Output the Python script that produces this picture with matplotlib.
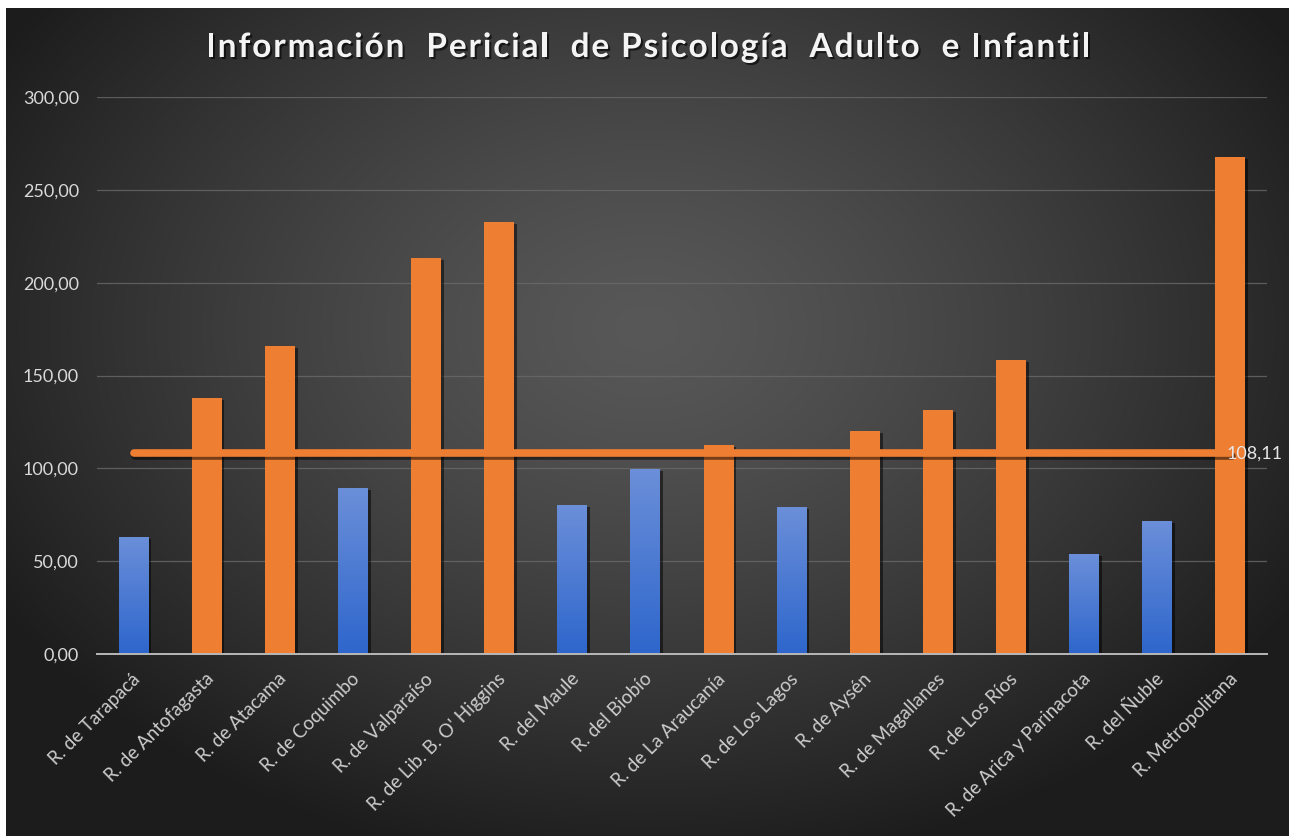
import numpy as np
import matplotlib
matplotlib.use("Agg")
import matplotlib.pyplot as plt
from matplotlib import patheffects as pe
from matplotlib.textpath import TextPath
from matplotlib.font_manager import FontProperties

regions = ["R. de Tarapacá", "R. de Antofagasta", "R. de Atacama", "R. de Coquimbo",
           "R. de Valparaíso", "R. de Lib. B. O' Higgins", "R. del Maule", "R. del Biobío",
           "R. de La Araucanía", "R. de Los Lagos", "R. de Aysén", "R. de Magallanes",
           "R. de Los Ríos", "R. de Arica y Parinacota", "R. del Ñuble", "R. Metropolitana"]
values = [63.2, 138.0, 166.0, 89.2, 213.4, 232.8, 80.2, 99.6,
          112.5, 79.0, 120.3, 131.4, 158.3, 53.8, 71.8, 267.8]
average = 108.11
yticks = [0, 50, 100, 150, 200, 250, 300]
ytick_labels = ["0,00", "50,00", "100,00", "150,00", "200,00", "250,00", "300,00"]
title = "Información  Pericial  de Psicología  Adulto  e Infantil"

plt.rcParams['font.family'] = ['Lato', 'DejaVu Sans']

W, H = 1289, 836
fig = plt.figure(figsize=(W / 100, H / 100), dpi=100, facecolor="white")

# background (chart area, leaving white strip at top/left)
bx0, by0 = 6 / W, 0
bg = fig.add_axes([bx0, by0, 1 - bx0, 1 - 8 / H])
bg.set_axis_off()
yy, xx = np.mgrid[0:828, 0:1283]
cx, cy = 640, 320
r = np.sqrt(((xx - cx) / 720.0) ** 2 + ((yy - cy) / 520.0) ** 2)
lum = 0.345 - 0.22 * np.clip(r, 0, 1.4) ** 1.3
lum = np.clip(lum, 0.11, 0.36)
img = np.dstack([lum, lum, lum])
bg.imshow(img, aspect='auto', extent=[0, 1, 0, 1], origin='upper')
bg.set_xlim(0, 1)
bg.set_ylim(0, 1)

ax = fig.add_axes([97 / W, 1 - 654 / H, 1170 / W, 557 / H])
ax.patch.set_alpha(0)
x = np.arange(len(regions))
orange = "#EE7E32"
colors = [orange if v > average else "#4472C4" for v in values]
shadow = [pe.SimplePatchShadow(offset=(2, -1.5), shadow_rgbFace="black", alpha=0.5), pe.Normal()]
bars = ax.bar(x, values, width=0.41, color=colors, zorder=3, path_effects=shadow)

# gradient fill for blue bars
grad = np.linspace(0, 1, 256).reshape(-1, 1)
top = np.array([0.42, 0.56, 0.85])
bot = np.array([0.18, 0.40, 0.80])
gimg = (top[None, None, :] * (1 - grad[:, :, None]) + bot[None, None, :] * grad[:, :, None])
for b, v in zip(bars, values):
    if v <= average:
        im = ax.imshow(gimg, extent=[b.get_x(), b.get_x() + b.get_width(), 0, b.get_height()],
                       aspect='auto', origin='upper', zorder=4)
        im.set_clip_path(b)

ax.plot([x[0], x[-1]], [average, average], color=orange, lw=5.5, solid_capstyle='round', zorder=5,
        path_effects=[pe.SimpleLineShadow(offset=(1, -2), shadow_color="black", alpha=0.5), pe.Normal()])
ax.text(x[-1] - 0.05, average, "108,11", color="#e6e6e6", fontsize=13, va='center', ha='left', zorder=6)

ax.set_xlim(-0.5, len(regions) - 0.5)
ax.set_ylim(0, 300)
ax.set_yticks(yticks)
ax.set_yticklabels(ytick_labels, color="#d9d9d9", fontsize=13)
ax.set_xticks(x)
ax.set_xticklabels(regions, rotation=45, ha='right', va='center', rotation_mode='anchor',
                   color="#cccccc", fontsize=13.5)
ax.tick_params(axis='both', length=0)
ax.tick_params(axis='y', pad=13)
ax.tick_params(axis='x', pad=16)
for lab in ax.get_xticklabels():
    lab.set_transform(lab.get_transform() + matplotlib.transforms.ScaledTranslation(4 / 100, 0, fig.dpi_scale_trans))
ax.grid(axis='y', color="#6a6a6a", lw=0.9, alpha=0.8, zorder=0)
for s in ["top", "right", "left"]:
    ax.spines[s].set_visible(False)
ax.spines["bottom"].set_color("#b8b8b8")
ax.spines["bottom"].set_linewidth(1.4)
ax.spines["bottom"].set_zorder(6)

# title with letter spacing (tracking)
tsize = 24
fp = FontProperties(family='Lato', weight='bold', size=tsize)
tracking = 1.9  # px per character

def adv(s):
    if not s:
        return 0.0
    p1 = TextPath((0, 0), s + "|", prop=fp).get_extents().x1
    p2 = TextPath((0, 0), "|", prop=fp).get_extents().x1
    return p1 - p2

scale = 100 / 72.0  # points -> px
total = adv(title) * scale + tracking * (len(title) - 1)
x_start = 648 - total / 2
ty = 1 - 57 / H
for i, ch in enumerate(title):
    if ch == " ":
        continue
    px = x_start + adv(title[:i]) * scale + tracking * i
    fig.text(px / W, ty, ch, ha='left', va='baseline',
             color="#f4f4f4", fontproperties=fp,
             path_effects=[pe.withSimplePatchShadow(offset=(1.5, -1.5), shadow_rgbFace="black", alpha=0.6)])

fig.savefig("out.png", dpi=100, facecolor="white")
